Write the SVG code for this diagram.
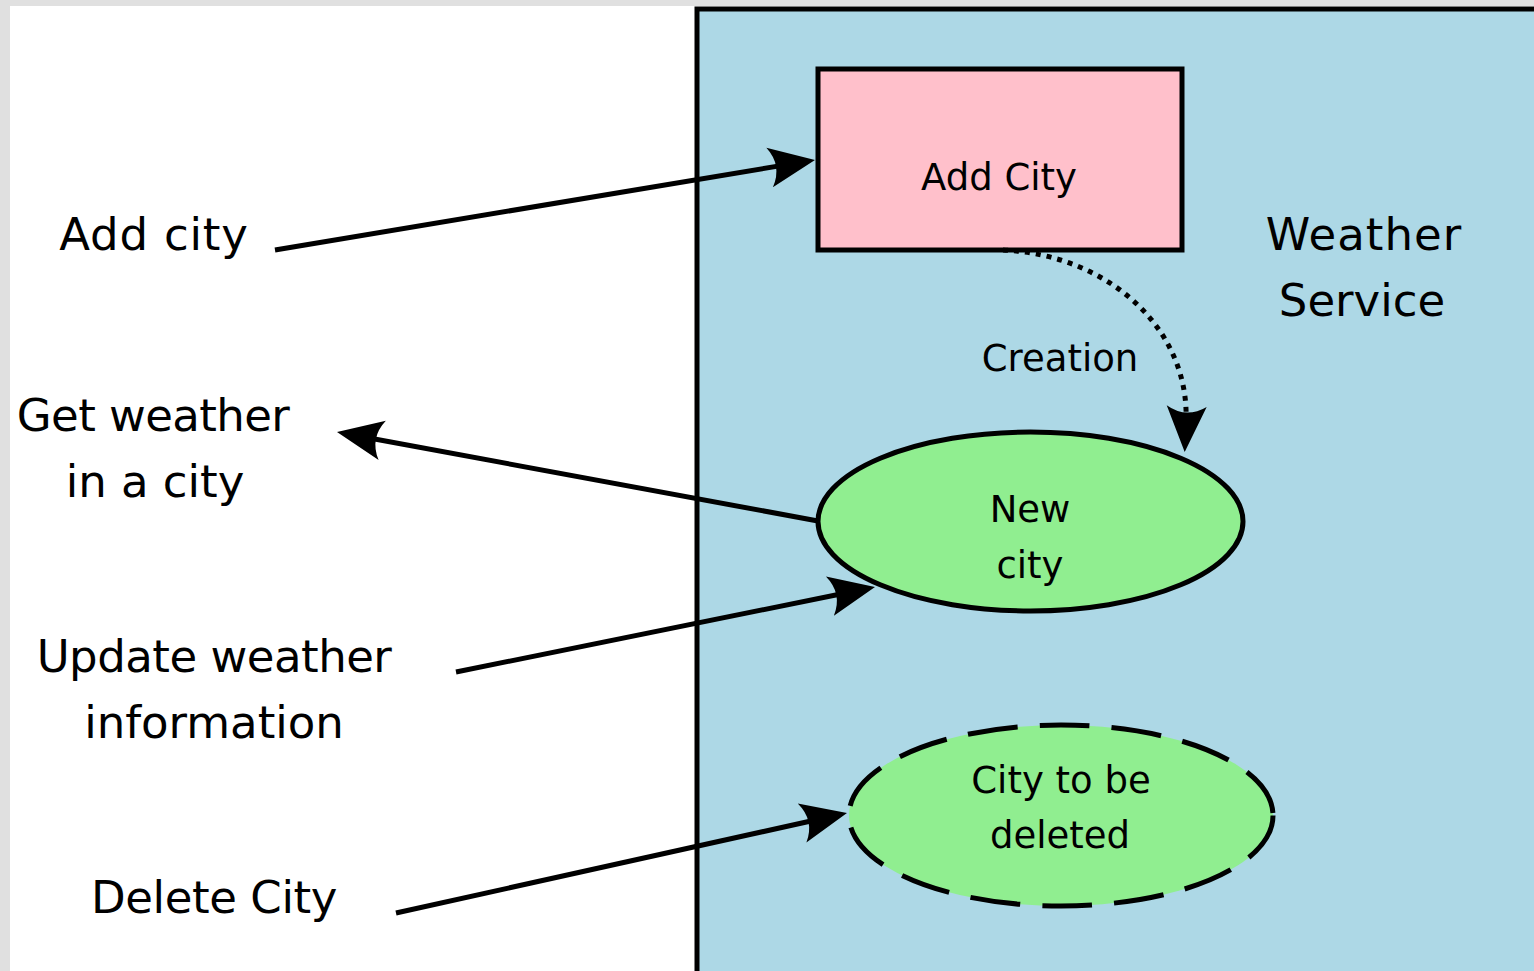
<svg xmlns="http://www.w3.org/2000/svg" width="1534" height="971" viewBox="0 0 1534 971">
<style>
  text { font-family: "DejaVu Sans", "Verdana", sans-serif; fill: #000; text-anchor: middle; }
  .big { font-size: 45px; }
  .mid { font-size: 37px; }
  .conn { fill: none; stroke: #000; stroke-width: 5; }
  .node { stroke: #000; stroke-width: 5; }
</style>
<defs>
  <marker id="ah" markerUnits="userSpaceOnUse" orient="auto" refX="-30" refY="0" markerWidth="60" markerHeight="60" overflow="visible">
    <path d="M0,0 L-46,-20 Q-33,0 -46,20 Z" fill="#000"/>
  </marker>
</defs>
<rect x="0" y="0" width="1534" height="971" fill="#e0e0e0"/>
<rect x="10" y="6" width="1524" height="965" fill="#fff"/>
<g id="weather-service">
  <rect x="697" y="9" width="900" height="1000" fill="#add8e6" class="node" stroke-width="6"/>
  <text class="big" x="1364" y="250" letter-spacing="1">Weather</text>
  <text class="big" x="1362" y="316">Service</text>
</g>
<g id="add-city-box">
  <rect x="818" y="69" width="364" height="181" fill="#ffc0cb" class="node"/>
  <text class="mid" x="999" y="190">Add City</text>
</g>
<g id="new-city">
  <ellipse cx="1030.5" cy="521.5" rx="212.5" ry="89.5" fill="#90ee90" class="node"/>
  <text class="mid" x="1030" y="522">New</text>
  <text class="mid" x="1030" y="578">city</text>
</g>
<g id="city-deleted">
  <ellipse cx="1061" cy="815.5" rx="212" ry="90.5" fill="#90ee90" class="node" stroke-dasharray="50,22"/>
  <text class="mid" x="1061" y="793">City to be</text>
  <text class="mid" x="1060" y="848">deleted</text>
</g>
<g id="label-add-city"><text class="big" x="154" y="250" letter-spacing="0.8">Add city</text></g>
<g id="label-get-weather">
  <text class="big" x="153" y="431" letter-spacing="-0.6">Get weather</text>
  <text class="big" x="155" y="497">in a city</text>
</g>
<g id="label-update">
  <text class="big" x="214" y="672" letter-spacing="-0.5">Update weather</text>
  <text class="big" x="214" y="738">information</text>
</g>
<g id="label-delete"><text class="big" x="214" y="913" letter-spacing="-0.4">Delete City</text></g>
<g id="connectors">
  <path class="conn" d="M275,250 L785.4,164.9" marker-end="url(#ah)"/>
  <path class="conn" d="M818,521 L366.5,437.5" marker-end="url(#ah)"/>
  <path class="conn" d="M456,672 L845.6,593" marker-end="url(#ah)"/>
  <path class="conn" d="M396,913 L817.7,819.5" marker-end="url(#ah)"/>
  <path class="conn" d="M1003,250 C1110,255 1190,330 1186,422" stroke-dasharray="5,6" marker-end="url(#ah)"/>
  <text class="mid" x="1060" y="371">Creation</text>
</g>
</svg>
